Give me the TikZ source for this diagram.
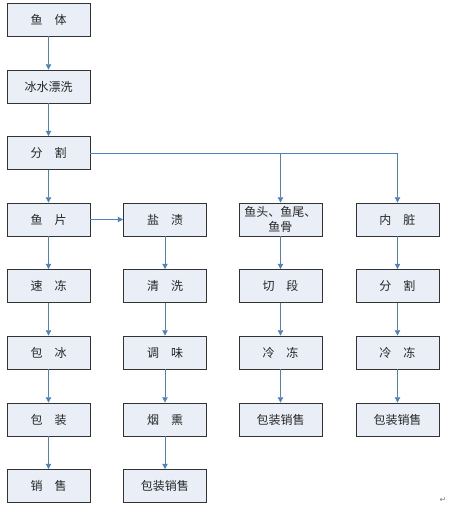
\documentclass[tikz,border=0pt]{standalone}
\usepackage{fontspec}
\newfontfamily\cjk{Noto Sans CJK SC}
\newfontfamily\dvs{DejaVu Sans}
\usetikzlibrary{arrows.meta}
\definecolor{boxfill}{HTML}{E9EEF7}
\definecolor{linecol}{HTML}{4F81BD}
\tikzset{
  stepbox/.style={draw=black!80, line width=0.6pt, fill=boxfill, minimum width=62.25pt, minimum height=24.75pt, inner sep=1pt, font=\cjk\fontsize{9}{11}\selectfont, text=black!85},
  conn/.style={draw=linecol, line width=0.6pt, -{Triangle[length=4pt,width=4pt]}},
  plain/.style={draw=linecol, line width=0.6pt}
}
\begin{document}
\begin{tikzpicture}[x=0.75pt,y=-0.75pt]
\useasboundingbox (0,0) rectangle (451,512);
% column centers 48.5, 165, 281, 397.5 ; row centers
\node[stepbox] (a1) at (48.5,19.5) {鱼\quad 体};
\node[stepbox] (a2) at (48.5,86.5) {冰水漂洗};
\node[stepbox] (a3) at (48.5,153) {分\quad 割};
\node[stepbox] (a4) at (48.5,219.5) {鱼\quad 片};
\node[stepbox] (a5) at (48.5,286) {速\quad 冻};
\node[stepbox] (a6) at (48.5,352.5) {包\quad 冰};
\node[stepbox] (a7) at (48.5,419.5) {包\quad 装};
\node[stepbox] (a8) at (48.5,486) {销\quad 售};

\node[stepbox] (b4) at (165,219.5) {盐\quad 渍};
\node[stepbox] (b5) at (165,286) {清\quad 洗};
\node[stepbox] (b6) at (165,352.5) {调\quad 味};
\node[stepbox] (b7) at (165,419.5) {烟\quad 熏};
\node[stepbox] (b8) at (165,486) {包装销售};

\node[stepbox, align=center] (c4) at (280.5,219.5) {鱼头、鱼尾、\\鱼骨};
\node[stepbox] (c5) at (280.5,286) {切\quad 段};
\node[stepbox] (c6) at (280.5,352.5) {冷\quad 冻};
\node[stepbox] (c7) at (280.5,419.5) {包装销售};

\node[stepbox] (d4) at (397.5,219.5) {内\quad 脏};
\node[stepbox] (d5) at (397.5,286) {分\quad 割};
\node[stepbox] (d6) at (397.5,352.5) {冷\quad 冻};
\node[stepbox] (d7) at (397.5,419.5) {包装销售};

\draw[conn] (a1) -- (a2);
\draw[conn] (a2) -- (a3);
\draw[conn] (a3) -- (a4);
\draw[conn] (a4) -- (a5);
\draw[conn] (a5) -- (a6);
\draw[conn] (a6) -- (a7);
\draw[conn] (a7) -- (a8);
\draw[conn] (a4) -- (b4);
\draw[conn] (b4) -- (b5);
\draw[conn] (b5) -- (b6);
\draw[conn] (b6) -- (b7);
\draw[conn] (b7) -- (b8);
\coordinate (j3) at (c4.north |- a3.east);
\coordinate (j4) at (d4.north |- a3.east);
\draw[plain] (a3.east) -- (j4);
\draw[conn] (j3) -- (c4);
\draw[conn] (j4) -- (d4);
\draw[conn] (c4) -- (c5);
\draw[conn] (c5) -- (c6);
\draw[conn] (c6) -- (c7);
\draw[conn] (d4) -- (d5);
\draw[conn] (d5) -- (d6);
\draw[conn] (d6) -- (d7);
\node[font=\dvs\fontsize{6}{7}\selectfont, text=black!50, inner sep=0pt] (ret) at (443,500) {↵};
\end{tikzpicture}
\end{document}
